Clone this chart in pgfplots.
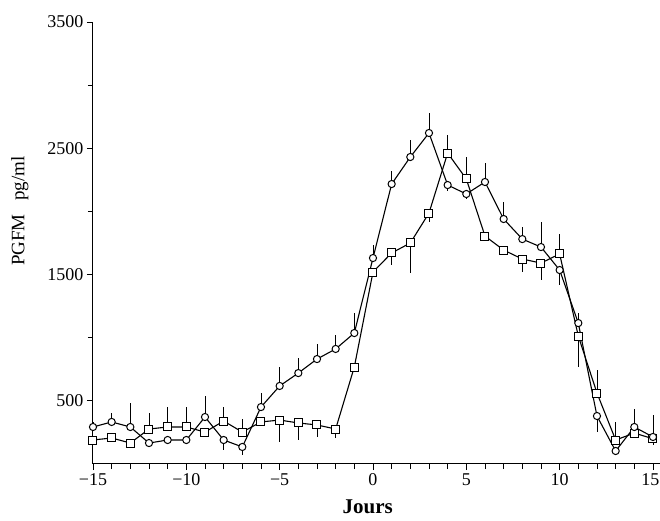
\documentclass[border=0pt]{standalone}
\usepackage{fontspec}
\setmainfont{Liberation Serif}
\usepackage{pgfplots}
\pgfplotsset{compat=1.18}
\begin{document}
\begin{tikzpicture}
\useasboundingbox (-93pt,-57pt) rectangle (567pt,464pt);
\begin{axis}[
  at={(0,0)}, anchor=south west,
  scale only axis, width=566.5pt, height=442pt,
  xmin=-15, xmax=15.35, ymin=0, ymax=3500,
  axis lines=left, axis line style={-, line width=1pt},
  enlargelimits=false, clip=false,
  xtick={-15,-10,...,15},
  xticklabels={−15,−10,−5,0,5,10,\hspace*{-5pt}15},
  minor xtick={-14,...,14},
  ytick={500,1500,2500,3500},
  yticklabels={500,1500,2500,3500},
  minor ytick={1000,2000,3000},
  tick align=outside,
  major tick length=6pt, minor tick length=5pt,
  every tick/.style={black, line width=0.8pt},
  tick label style={font=\fontsize{18}{20}\selectfont},
  xlabel={\textbf{Jours}},
  ylabel={PGFM\hspace{0.7em}pg/ml},
  xlabel style={font=\fontsize{21}{24}\selectfont, at={(axis description cs:0.485,-0.097)}, anchor=center},
  ylabel style={font=\fontsize{19}{22}\selectfont, at={(axis description cs:-0.129,0.572)}, anchor=center},
  error bars/y dir=both, error bars/y explicit,
  error bars/error mark=none,
  error bars/error bar style={black, line width=0.7pt},
]
% squares
\addplot[black, line width=1.1pt, mark=square*, mark size=4pt,
  mark options={fill=white, solid, line width=1pt}] coordinates {
(-15,190) += (0,0) -= (0,30)
(-14,206) += (0,0) -= (0,0)
(-13,166) += (0,0) -= (0,40)
(-12,277) += (0,126) -= (0,0)
(-11,293) += (0,160) -= (0,0)
(-10,293) += (0,160) -= (0,0)
(-9,253) += (0,0) -= (0,0)
(-8,340) += (0,110) -= (0,0)
(-7,253) += (0,100) -= (0,0)
(-6,333) += (0,20) -= (0,20)
(-5,348) += (0,0) -= (0,170)
(-4,325) += (0,0) -= (0,135)
(-3,309) += (0,0) -= (0,95)
(-2,277) += (0,0) -= (0,70)
(-1,768) += (0,0) -= (0,0)
(0,1520) += (0,0) -= (0,0)
(1,1671) += (0,0) -= (0,95)
(2,1750) += (0,0) -= (0,240)
(3,1987) += (0,0) -= (0,70)
(4,2462) += (0,143) -= (0,0)
(5,2257) += (0,173) -= (0,0)
(6,1805) += (0,0) -= (0,0)
(7,1694) += (0,0) -= (0,40)
(8,1623) += (0,0) -= (0,100)
(9,1591) += (0,0) -= (0,134)
(10,1663) += (0,158) -= (0,0)
(11,1013) += (0,0) -= (0,245)
(12,562) += (0,180) -= (0,0)
(13,190) += (0,143) -= (0,0)
(14,245) += (0,0) -= (0,0)
(15,200) += (0,0) -= (0,0)
};
% circles
\addplot[black, line width=1.1pt, mark=*, mark size=3.6pt,
  mark options={fill=white, solid, line width=1pt}] coordinates {
(-15,293) += (0,40) -= (0,0)
(-14,333) += (0,70) -= (0,0)
(-13,293) += (0,190) -= (0,0)
(-12,166) += (0,0) -= (0,0)
(-11,190) += (0,0) -= (0,0)
(-10,190) += (0,0) -= (0,0)
(-9,372) += (0,166) -= (0,0)
(-8,190) += (0,0) -= (0,80)
(-7,135) += (0,0) -= (0,60)
(-6,451) += (0,110) -= (0,0)
(-5,618) += (0,150) -= (0,0)
(-4,720) += (0,120) -= (0,0)
(-3,831) += (0,120) -= (0,0)
(-2,911) += (0,110) -= (0,0)
(-1,1037) += (0,160) -= (0,0)
(0,1631) += (0,100) -= (0,0)
(1,2217) += (0,100) -= (0,0)
(2,2431) += (0,135) -= (0,0)
(3,2621) += (0,160) -= (0,0)
(4,2209) += (0,0) -= (0,50)
(5,2138) += (0,0) -= (0,40)
(6,2233) += (0,150) -= (0,0)
(7,1940) += (0,135) -= (0,0)
(8,1781) += (0,95) -= (0,0)
(9,1718) += (0,198) -= (0,0)
(10,1536) += (0,0) -= (0,120)
(11,1116) += (0,80) -= (0,0)
(12,380) += (0,0) -= (0,127)
(13,103) += (0,0) -= (0,0)
(14,293) += (0,140) -= (0,0)
(15,214) += (0,175) -= (0,60)
};
\end{axis}
\end{tikzpicture}
\end{document}
